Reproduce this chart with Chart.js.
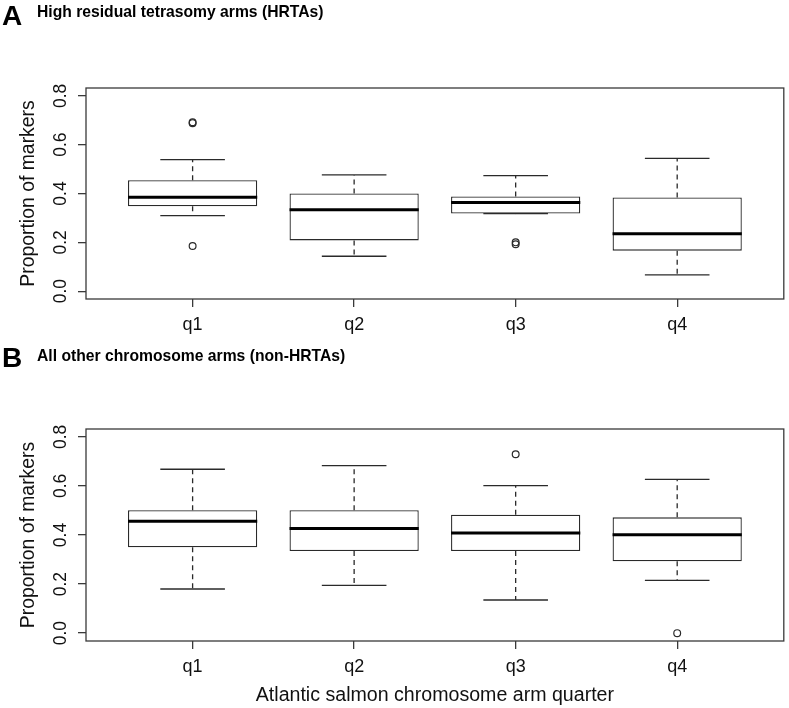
<!DOCTYPE html>
<html>
<head>
<meta charset="utf-8">
<script src="https://cdn.jsdelivr.net/npm/chart.js@4.4.1/dist/chart.umd.min.js"></script>
<style>
  body { margin: 0; background: #fff; }
  canvas { display: block; }
</style>
</head>
<body>
<canvas id="panelA" width="789" height="341"></canvas>
<canvas id="panelB" width="789" height="367"></canvas>
<script>
const quarters = ['q1', 'q2', 'q3', 'q4'];
const yTicks = [0.0, 0.2, 0.4, 0.6, 0.8];

// A: high residual tetrasomy arms
const hrtaLow  = [0.309, 0.143, 0.318, 0.067];
const hrtaQ1   = [0.348, 0.208, 0.318, 0.166];
const hrtaMed  = [0.385, 0.333, 0.363, 0.235];
const hrtaQ3   = [0.454, 0.400, 0.388, 0.384];
const hrtaHigh = [0.539, 0.476, 0.473, 0.544];
const hrtaOut  = [[0.688, 0.692, 0.185], [], [0.192, 0.200], []];

// B: all other arms
const otherLow  = [0.180, 0.195, 0.135, 0.215];
const otherQ1   = [0.350, 0.335, 0.335, 0.293];
const otherMed  = [0.456, 0.426, 0.408, 0.401];
const otherQ3   = [0.501, 0.501, 0.483, 0.472];
const otherHigh = [0.668, 0.683, 0.601, 0.627];
const otherOut  = [[], [], [0.729], [0.000]];

const FONT = '"Liberation Sans", Arial, Helvetica, sans-serif';
Chart.defaults.font.family = FONT;

function line(ctx, x1, y1, x2, y2) {
  ctx.beginPath();
  ctx.moveTo(x1, y1);
  ctx.lineTo(x2, y2);
  ctx.stroke();
}

// whiskers, medians, frame, rotated y labels, panel heading
const boxParts = {
  id: 'boxParts',
  afterDatasetsDraw(chart, args, opts) {
    const { ctx, scales: { x, y } } = chart;
    const s = opts.stats;
    ctx.save();
    for (let i = 0; i < quarters.length; i++) {
      const v = i + 1;
      const cx = x.getPixelForValue(v);
      ctx.strokeStyle = '#2a2a2a';
      ctx.lineWidth = 1.3;
      ctx.setLineDash([5, 4]);
      line(ctx, cx, y.getPixelForValue(s.q3[i]), cx, y.getPixelForValue(s.high[i]));
      line(ctx, cx, y.getPixelForValue(s.q1[i]), cx, y.getPixelForValue(s.low[i]));
      ctx.setLineDash([]);
      line(ctx, x.getPixelForValue(v - 0.2), y.getPixelForValue(s.high[i]), x.getPixelForValue(v + 0.2), y.getPixelForValue(s.high[i]));
      line(ctx, x.getPixelForValue(v - 0.2), y.getPixelForValue(s.low[i]), x.getPixelForValue(v + 0.2), y.getPixelForValue(s.low[i]));
      ctx.strokeStyle = '#000';
      ctx.lineWidth = 3;
      line(ctx, x.getPixelForValue(v - 0.4), y.getPixelForValue(s.med[i]), x.getPixelForValue(v + 0.4), y.getPixelForValue(s.med[i]));
    }
    ctx.restore();
  },
  afterDraw(chart, args, opts) {
    const { ctx, chartArea: a, scales: { y } } = chart;
    ctx.save();
    ctx.strokeStyle = '#3a3a3a';
    ctx.lineWidth = 1.3;
    ctx.strokeRect(a.left, a.top, a.right - a.left, a.bottom - a.top);

    ctx.fillStyle = '#111';
    ctx.font = '17.5px ' + FONT;
    ctx.textAlign = 'center';
    ctx.textBaseline = 'middle';
    y.ticks.forEach(t => {
      ctx.save();
      ctx.translate(61.5, y.getPixelForValue(t.value));
      ctx.rotate(-Math.PI / 2);
      ctx.fillText(t.value.toFixed(1), 0, 0);
      ctx.restore();
    });

    ctx.textAlign = 'left';
    ctx.textBaseline = 'alphabetic';
    ctx.fillStyle = '#000';
    ctx.font = 'bold 28px ' + FONT;
    ctx.fillText(opts.letter, 2, opts.letterY);
    ctx.font = 'bold 15.7px ' + FONT;
    ctx.fillText(opts.heading, 37, opts.headingY);
    ctx.restore();
  }
};

function makePanel(id, stats, out, heading, letter, letterY, headingY, axisHeight, showXTitle) {
  const boxes = quarters.map((q, i) => ({ x: i + 1, y: [stats.q1[i], stats.q3[i]] }));
  const points = [];
  out.forEach((vals, i) => vals.forEach(v => points.push({ x: i + 1, y: v })));

  return new Chart(document.getElementById(id), {
    type: 'bar',
    data: {
      datasets: [{
        data: boxes,
        backgroundColor: '#fff',
        borderColor: '#2a2a2a',
        borderWidth: 1.3,
        borderSkipped: false,
        barPercentage: 0.8,
        categoryPercentage: 1
      }, {
        type: 'scatter',
        data: points,
        pointStyle: 'circle',
        pointRadius: 3.4,
        pointBorderWidth: 1.2,
        pointBorderColor: '#2a2a2a',
        pointBackgroundColor: 'rgba(0,0,0,0)'
      }]
    },
    options: {
      responsive: false,
      animation: false,
      layout: { padding: { left: 0, top: 88, right: 3, bottom: 0 } },
      plugins: {
        legend: { display: false },
        tooltip: { enabled: false },
        boxParts: { stats, letter, heading, letterY, headingY }
      },
      scales: {
        x: {
          type: 'linear',
          min: 0.34,
          max: 4.66,
          offset: false,
          afterBuildTicks: s => { s.ticks = quarters.map((q, i) => ({ value: i + 1 })); },
          afterFit: s => { s.height = axisHeight; },
          ticks: {
            callback: (v, i) => quarters[i],
            font: { size: 18 },
            color: '#111',
            padding: 7,
            autoSkip: false,
            maxRotation: 0
          },
          grid: { drawOnChartArea: false, offset: false, tickLength: 8, color: '#3a3a3a', lineWidth: 1.3 },
          border: { display: false },
          title: {
            display: showXTitle,
            text: 'Atlantic salmon chromosome arm quarter',
            font: { size: 19.6 },
            color: '#111',
            padding: { top: 0, bottom: 1 }
          }
        },
        y: {
          min: -0.032,
          max: 0.832,
          afterBuildTicks: s => { s.ticks = yTicks.map(v => ({ value: v })); },
          afterFit: s => { s.width = 86; },
          ticks: { display: false },
          grid: { drawOnChartArea: false, tickLength: 8, color: '#3a3a3a', lineWidth: 1.3 },
          border: { display: false },
          title: {
            display: true,
            text: 'Proportion of markers',
            font: { size: 19.4 },
            color: '#111',
            padding: { top: 17 }
          }
        }
      }
    },
    plugins: [boxParts]
  });
}

makePanel('panelA',
  { low: hrtaLow, q1: hrtaQ1, med: hrtaMed, q3: hrtaQ3, high: hrtaHigh },
  hrtaOut, 'High residual tetrasomy arms (HRTAs)', 'A', 25, 17, 42, false);

makePanel('panelB',
  { low: otherLow, q1: otherQ1, med: otherMed, q3: otherQ3, high: otherHigh },
  otherOut, 'All other chromosome arms (non-HRTAs)', 'B', 26, 20, 67, true);
</script>
</body>
</html>
